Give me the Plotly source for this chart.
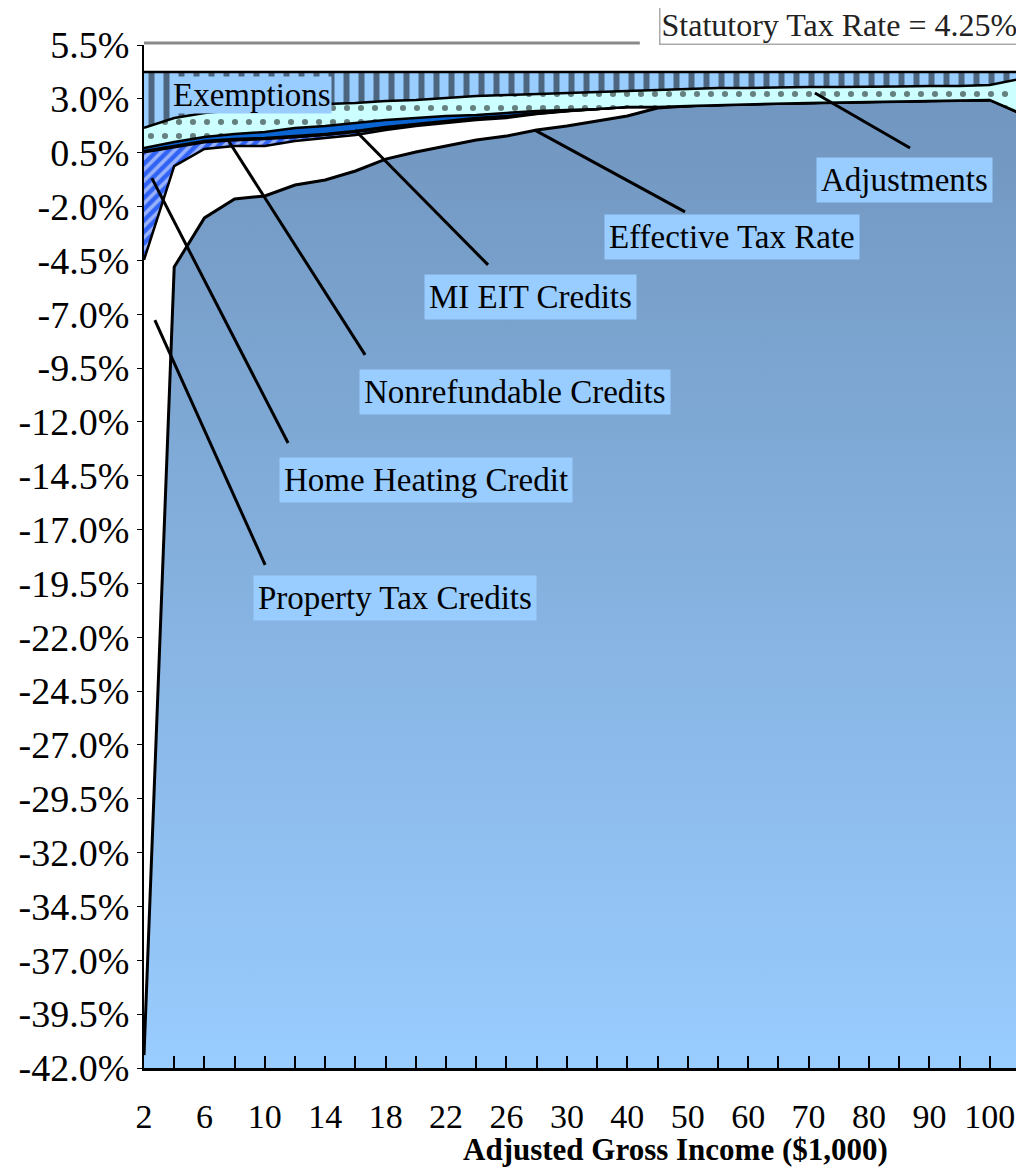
import numpy as np
import plotly.graph_objects as go

# Adjusted gross income brackets ($1,000)
INCOME = ['2', '4', '6', '8', '10', '12', '14', '16', '18', '20', '22', '24', '26', '28', '30',
          '35', '40', '45', '50', '55', '60', '65', '70', '75', '80', '85', '90', '95', '100', '>100']

# components of the statutory rate, percent of AGI (bottom to top)
EFFECTIVE_RATE = [-41.40, -4.81, -2.53, -1.65, -1.51, -1.00, -0.77, -0.35, 0.20, 0.53,
                  0.81, 1.09, 1.27, 1.55, 1.74, 1.97, 2.20, 2.57, 2.67, 2.71,
                  2.76, 2.78, 2.81, 2.83, 2.85, 2.88, 2.90, 2.93, 2.95, 2.34]
PROPERTY_TAX = [36.92, 4.69, 3.20, 2.46, 2.32, 2.04, 1.95, 1.67, 1.35, 1.21,
                1.07, 0.93, 0.84, 0.75, 0.68, 0.56, 0.42, 0.05, 0.0, 0.0,
                0.0, 0.0, 0.0, 0.0, 0.0, 0.0, 0.0, 0.0, 0.0, 0.0]
HOME_HEATING = [5.00, 0.87, 0.31, 0.27, 0.32, 0.18, 0.14, 0.14, 0.10, 0.05,
                0.06, 0.06, 0.07, 0.02, 0.01, 0.0, 0.0, 0.0, 0.0, 0.0,
                0.0, 0.0, 0.0, 0.0, 0.0, 0.0, 0.0, 0.0, 0.0, 0.0]
NONREFUNDABLE = [0.06, 0.06, 0.06, 0.06, 0.05, 0.05, 0.05, 0.05, 0.04, 0.04,
                 0.03, 0.03, 0.02, 0.02, 0.01, 0.0, 0.0, 0.0, 0.0, 0.0,
                 0.0, 0.0, 0.0, 0.0, 0.0, 0.0, 0.0, 0.0, 0.0, 0.0]
MI_EIT = [0.14, 0.19, 0.19, 0.23, 0.28, 0.38, 0.37, 0.37, 0.33, 0.28,
          0.23, 0.14, 0.14, 0.10, 0.04, 0.0, 0.0, 0.0, 0.0, 0.0,
          0.0, 0.0, 0.0, 0.0, 0.0, 0.0, 0.0, 0.0, 0.0, 0.0]
ADJUSTMENTS = [0.93, 1.11, 1.11, 1.11, 1.11, 1.02, 1.02, 0.93, 0.88, 0.84,
               0.84, 0.88, 0.84, 0.78, 0.79, 0.79, 0.74, 0.79, 0.79, 0.79,
               0.74, 0.75, 0.74, 0.72, 0.70, 0.69, 0.70, 0.67, 0.69, 1.58]
EXEMPTIONS = [2.60, 2.14, 1.91, 1.77, 1.68, 1.58, 1.49, 1.44, 1.35, 1.30,
              1.21, 1.12, 1.07, 1.03, 0.98, 0.93, 0.89, 0.84, 0.79, 0.75,
              0.75, 0.72, 0.70, 0.70, 0.70, 0.68, 0.65, 0.65, 0.61, 0.33]

Y_MIN, Y_MAX = -42.0, 5.5
SERIF = 'Liberation Serif, Times New Roman, serif'

x = list(range(len(INCOME)))
fig = go.Figure()

# floor of the axis, the effective-rate area fills up from here
fig.add_trace(go.Scatter(x=x, y=[Y_MIN] * len(x), mode='lines',
                         line=dict(width=0), hoverinfo='skip', showlegend=False))

level = np.array(EFFECTIVE_RATE)
fig.add_trace(go.Scatter(
    x=x, y=level, mode='lines', fill='tonexty',
    fillgradient=dict(type='vertical', start=Y_MIN, stop=3.0,
                      colorscale=[[0, '#99ccff'], [1, '#7196bf']]),
    line=dict(color='black', width=3), showlegend=False))

layers = [
    (PROPERTY_TAX, dict(fillcolor='white')),
    (HOME_HEATING, dict(fillpattern=dict(shape='/', fgcolor='white', bgcolor='#2f62f5',
                                         size=8, solidity=0.45))),
    (NONREFUNDABLE, dict(fillcolor='white')),
    (MI_EIT, dict(fillcolor='#0a64d2')),
    (ADJUSTMENTS, dict(fillpattern=dict(shape='.', fgcolor='black', bgcolor='#ccffff',
                                        size=14, solidity=0.15))),
    (EXEMPTIONS, dict(fillpattern=dict(shape='|', fgcolor='black', bgcolor='#99ccff',
                                       size=15, solidity=0.4))),
]
for vals, style in layers:
    level = level + np.array(vals)
    fig.add_trace(go.Scatter(x=x, y=level, mode='lines', fill='tonexty',
                             line=dict(color='black', width=2.5),
                             showlegend=False, **style))

# labels with leader lines: (text, label x, label y, line from, line to)
labels = [
    ('Adjustments', 25.16, -0.77, (25.36, 0.72), (22.21, 3.27)),
    ('Effective Tax Rate', 19.46, -3.41, (17.91, -2.25), (12.94, 1.55)),
    ('MI EIT Credits', 12.81, -6.20, (11.39, -4.71), (6.98, 1.55)),
    ('Nonrefundable Credits', 12.28, -10.61, (7.32, -8.89), (2.78, 1.09)),
    ('Home Heating Credit', 9.33, -14.70, (4.77, -12.98), (0.26, -0.68)),
    ('Property Tax Credits', 8.31, -20.18, (4.01, -18.64), (0.36, -7.27)),
]
for text, lx, ly, p0, p1 in labels:
    fig.add_shape(type='line', x0=p0[0], y0=p0[1], x1=p1[0], y1=p1[1],
                  line=dict(color='black', width=3))
    fig.add_annotation(x=lx, y=ly, text=text, showarrow=False,
                       font=dict(family=SERIF, size=33, color='black'),
                       bgcolor='#99ccff', borderpad=4)

fig.add_annotation(x=3.57, y=3.2, text='Exemptions', showarrow=False,
                   font=dict(family=SERIF, size=33, color='black'),
                   bgcolor='#99ccff', borderpad=0)

# statutory rate box on top right
fig.add_annotation(xref='paper', yref='paper', x=1.0, y=1.0, xanchor='right', yanchor='bottom',
                   text='Statutory Tax Rate = 4.25%', showarrow=False,
                   font=dict(family=SERIF, size=32, color='#222'),
                   bgcolor='white', bordercolor='#aaaaaa', borderwidth=1.5, borderpad=1)
fig.add_shape(type='line', xref='paper', yref='paper', x0=0, x1=0.566, y0=1.002, y1=1.002,
              line=dict(color='#8a8a8a', width=3))

# axis title sits right of centre in the original
fig.add_annotation(xref='paper', yref='paper', x=0.607, y=-0.08, yanchor='middle',
                   text='<b>Adjusted Gross Income ($1,000)</b>', showarrow=False,
                   font=dict(family=SERIF, size=31, color='black'))

yticks = np.arange(Y_MIN, Y_MAX + 0.01, 2.5)
fig.update_yaxes(range=[Y_MIN, Y_MAX], tickvals=yticks,
                 ticktext=['%.1f%%' % v for v in yticks],
                 ticks='outside', ticklen=5, tickcolor='black',
                 showline=True, linecolor='black', linewidth=2,
                 showgrid=False, zeroline=False, automargin=False,
                 tickfont=dict(family=SERIF, size=38, color='black'))
fig.update_xaxes(range=[0, len(INCOME) - 1], tickvals=x,
                 ticktext=[c if i % 2 == 0 else '' for i, c in enumerate(INCOME)],
                 ticks='inside', ticklen=12, tickwidth=2, tickcolor='black',
                 ticklabelstandoff=16,
                 showline=True, linecolor='black', linewidth=3,
                 showgrid=False, zeroline=False, automargin=False,
                 tickfont=dict(family=SERIF, size=34, color='black'))

# page body adds an 8px margin, so the figure is drawn 8px smaller
fig.update_layout(width=1016, height=1162,
                  margin=dict(l=136, r=4, t=37, b=102, autoexpand=False),
                  plot_bgcolor='white', paper_bgcolor='white')

fig.write_html('out.html')
